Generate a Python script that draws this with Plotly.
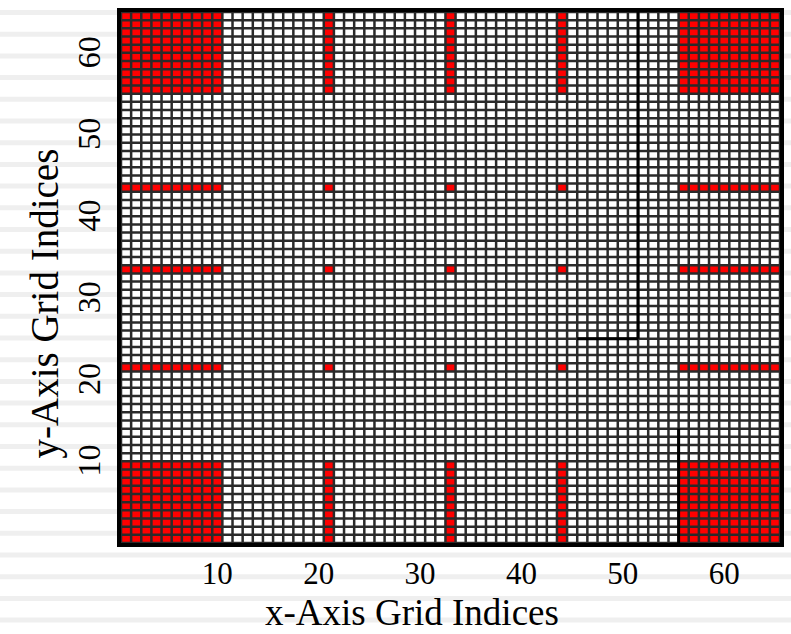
import numpy as np
import plotly.graph_objects as go

# ---- data ----
n_cells = 65                      # grid is 65 x 65 cells
x_idx = list(range(1, n_cells + 1))
y_idx = list(range(1, n_cells + 1))
edge_lo = list(range(1, 11))      # indices 1..10
edge_hi = list(range(56, 66))     # indices 56..65
red_cols = [21, 33, 44]           # interior columns that carry red cells
red_rows = [22, 34, 44]           # interior rows that carry red cells
x_ticks = [10, 20, 30, 40, 50, 60]
y_ticks = [10, 20, 30, 40, 50, 60]

# ---- build cell matrix ----
z = np.zeros((n_cells, n_cells))
edges = edge_lo + edge_hi
for r in edges:
    for c in edges:
        z[r - 1, c - 1] = 1
for c in red_cols:
    for r in edges:
        z[r - 1, c - 1] = 1
for r in red_rows:
    for c in edges:
        z[r - 1, c - 1] = 1
for r in red_rows:
    for c in red_cols:
        z[r - 1, c - 1] = 1

fig = go.Figure(go.Heatmap(
    x=x_idx, y=y_idx, z=z,
    colorscale=[[0, "#ffffff"], [1, "#ff0000"]],
    zmin=0, zmax=1, showscale=False, hoverinfo="skip",
))

# cell boundary lines
lo, hi = x_idx[0] - 0.5, x_idx[-1] + 0.5
gx, gy = [], []
for b in np.arange(lo, hi + 0.01, 1.0):
    gx += [b, b, None]
    gy += [lo, hi, None]
    gx += [lo, hi, None]
    gy += [b, b, None]
fig.add_trace(go.Scatter(x=gx, y=gy, mode="lines",
                         line=dict(color="#2a2a2a", width=2.5),
                         hoverinfo="skip", showlegend=False))

# page background stripes (decoration)
W, H = 791, 634
L, R, T, B = 121, 7, 12, 91
ph = H - T - B
pw = W - L - R
shapes = []
y = 10.0
while y < H:
    y0 = (H - B - y) / ph
    y1 = (H - B - (y + 5)) / ph
    shapes.append(dict(type="rect", xref="paper", yref="paper",
                       x0=-0.3, x1=1.1, y0=y1, y1=y0,
                       fillcolor="#efefef", line=dict(width=0), layer="below"))
    y += 21.7

# darker sub-domain boundary lines seen in the grid
line_style = dict(color="#000000", width=3)
shapes += [
    dict(type="line", xref="x", yref="y", x0=51.5, x1=51.5, y0=25.5, y1=65.5, line=line_style),
    dict(type="line", xref="x", yref="y", x0=45.5, x1=51.5, y0=25.5, y1=25.5, line=line_style),
    dict(type="line", xref="x", yref="y", x0=55.5, x1=55.5, y0=0.5, y1=14.5, line=line_style),
]

font_family = "Liberation Serif, Times New Roman, serif"
fig.update_layout(
    width=W, height=H,
    margin=dict(l=L, r=R, t=T, b=B),
    paper_bgcolor="white", plot_bgcolor="white",
    shapes=shapes,
    showlegend=False,
    font=dict(family=font_family, color="black"),
    xaxis=dict(range=[lo, hi], tickvals=x_ticks,
               ticks="", showgrid=False, zeroline=False,
               showline=True, mirror=True, linecolor="black", linewidth=4,
               tickfont=dict(size=31), ticklabelstandoff=0),
    yaxis=dict(range=[lo, hi], tickvals=y_ticks,
               ticks="", showgrid=False, zeroline=False,
               showline=True, mirror=True, linecolor="black", linewidth=4,
               tickangle=-90, tickfont=dict(size=32), ticklabelstandoff=4),
    annotations=[
        dict(text="x-Axis Grid Indices", xref="paper", yref="paper",
             x=(414 - L) / pw, y=-(612 - (H - B)) / ph,
             xanchor="center", yanchor="middle", showarrow=False,
             font=dict(size=37)),
        dict(text="y-Axis Grid Indices", xref="paper", yref="paper",
             x=-(L - 45) / pw, y=(H - B - 303) / ph, textangle=-90,
             xanchor="center", yanchor="middle", showarrow=False,
             font=dict(size=39)),
    ],
)

fig.write_html("out.html")
